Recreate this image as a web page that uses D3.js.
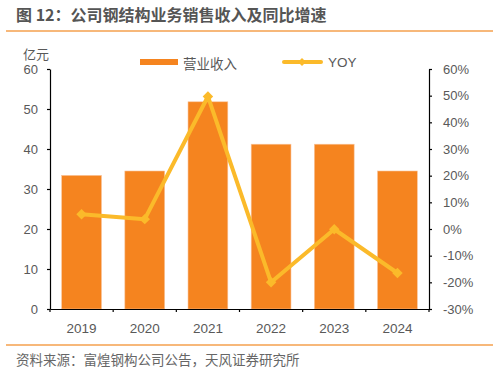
<!DOCTYPE html>
<html>
<head>
<meta charset="utf-8">
<script src="https://cdn.jsdelivr.net/npm/d3@7"></script>
<style>
  body { margin: 0; background: #fff; }
  svg { font-family: "Liberation Sans", Arial, "Noto Sans CJK SC", sans-serif; }
</style>
</head>
<body>
<svg id="chart" width="499" height="372" viewBox="0 0 499 372"></svg>
<script>
const years = ["2019", "2020", "2021", "2022", "2023", "2024"];
const revenue = [33.4, 34.5, 51.8, 41.2, 41.2, 34.5];
const yoy = [5.5, 3.7, 49.7, -20.0, -0.1, -16.5];
const leftTicks = [0, 10, 20, 30, 40, 50, 60];
const rightTicks = [-30, -20, -10, 0, 10, 20, 30, 40, 50, 60];

const orange = "#F5841F";
const yellow = "#FBBA2A";
const grey = "#595959";
const cjk = '"Noto Sans CJK SC", sans-serif';

const svg = d3.select("#chart");

// title + rules
svg.append("text")
    .attr("x", 16).attr("y", 21)
    .attr("font-family", cjk)
    .attr("font-size", 16).attr("font-weight", "bold")
    .attr("fill", "#555")
    .text("图 12：公司钢结构业务销售收入及同比增速");
svg.append("line").attr("x1", 6).attr("x2", 493).attr("y1", 31).attr("y2", 31)
    .attr("stroke", "#F4A04E").attr("stroke-width", 1.5);
svg.append("line").attr("x1", 6).attr("x2", 493).attr("y1", 345).attr("y2", 345)
    .attr("stroke", "#F4A04E").attr("stroke-width", 1.5);
svg.append("text")
    .attr("x", 16).attr("y", 365)
    .attr("font-family", cjk)
    .attr("font-size", 13.5).attr("fill", "#666")
    .text("资料来源：富煌钢构公司公告，天风证券研究所");

// scales
const x = d3.scaleBand().domain(years).range([50, 429]).paddingInner(0.37).paddingOuter(0.185);
const yL = d3.scaleLinear().domain([0, 60]).range([309, 69]);
const yR = d3.scaleLinear().domain([-30, 60]).range([309, 69]);

// bars
svg.append("g").selectAll("rect")
    .data(years)
    .enter().append("rect")
    .attr("x", d => x(d))
    .attr("y", (d, i) => yL(revenue[i]))
    .attr("width", x.bandwidth())
    .attr("height", (d, i) => yL(0) - yL(revenue[i]))
    .attr("fill", orange)
    .attr("stroke", "#F9C39A")
    .attr("stroke-width", 0.6);

// line
const line = d3.line()
    .x((d, i) => x(years[i]) + x.bandwidth() / 2)
    .y(d => yR(d));
svg.append("path")
    .datum(yoy)
    .attr("d", line)
    .attr("fill", "none")
    .attr("stroke", yellow)
    .attr("stroke-width", 4)
    .attr("stroke-linejoin", "round");
svg.append("g").selectAll("path")
    .data(yoy)
    .enter().append("path")
    .attr("d", d3.symbol(d3.symbolDiamond2, 70))
    .attr("transform", (d, i) => "translate(" + (x(years[i]) + x.bandwidth() / 2) + "," + yR(d) + ")")
    .attr("fill", yellow);

// axes
const styleAxis = g => {
    g.select(".domain").attr("stroke", "#000").attr("stroke-width", 1.2);
    g.selectAll(".tick line").attr("stroke", "#000").attr("stroke-width", 1.2);
    g.selectAll(".tick text").attr("fill", grey).attr("font-size", 13)
        .attr("font-family", '"Liberation Sans", Arial, sans-serif');
};

svg.append("g")
    .attr("transform", "translate(50,0)")
    .call(d3.axisLeft(yL).tickValues(leftTicks).tickSize(3).tickSizeOuter(0).tickPadding(9))
    .call(styleAxis);

svg.append("g")
    .attr("transform", "translate(429,0)")
    .call(d3.axisRight(yR).tickValues(rightTicks).tickSize(3).tickSizeOuter(0).tickPadding(11)
        .tickFormat(d => d + "%"))
    .call(styleAxis);

const xAxis = svg.append("g")
    .attr("transform", "translate(0,309)")
    .call(d3.axisBottom(x).tickSize(0).tickPadding(12))
    .call(styleAxis);
xAxis.selectAll(".tick text").attr("dy", "0.9em").attr("font-size", 13.5);
// boundary ticks between categories
xAxis.selectAll(".bound")
    .data(years.concat(["end"]))
    .enter().append("line")
    .attr("x1", (d, i) => x.range()[0] + i * x.step())
    .attr("x2", (d, i) => x.range()[0] + i * x.step())
    .attr("y1", 0).attr("y2", 3)
    .attr("stroke", "#000").attr("stroke-width", 1.2);

// unit label
svg.append("text")
    .attr("x", 23).attr("y", 58.5)
    .attr("font-family", cjk)
    .attr("font-size", 13).attr("fill", grey)
    .text("亿元");

// legend
svg.append("rect").attr("x", 140).attr("y", 59).attr("width", 38).attr("height", 6).attr("fill", orange);
svg.append("text").attr("x", 183).attr("y", 68.5)
    .attr("font-family", cjk).attr("font-size", 13.5).attr("fill", grey).text("营业收入");
svg.append("line").attr("x1", 284).attr("x2", 321).attr("y1", 62).attr("y2", 62)
    .attr("stroke", yellow).attr("stroke-width", 4).attr("stroke-linecap", "round");
svg.append("path").attr("d", d3.symbol(d3.symbolDiamond2, 40))
    .attr("transform", "translate(302,62)").attr("fill", yellow);
svg.append("text").attr("x", 328).attr("y", 66.5)
    .attr("font-family", '"Liberation Sans", Arial, sans-serif').attr("font-size", 13.5).attr("fill", grey).text("YOY");
</script>
</body>
</html>
